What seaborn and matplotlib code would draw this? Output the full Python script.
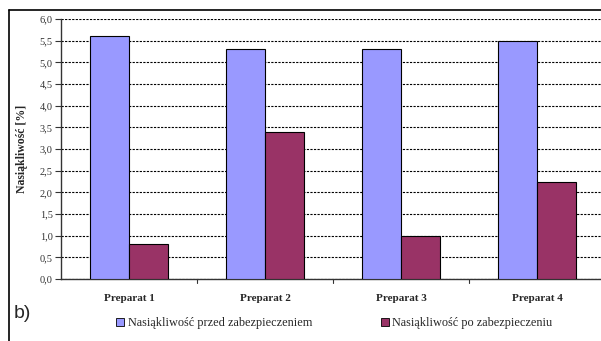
import matplotlib
matplotlib.use("Agg")
import matplotlib.pyplot as plt
from matplotlib.patches import Rectangle
from matplotlib.ticker import FuncFormatter, MultipleLocator
import pandas as pd
import seaborn as sns

categories = ["Preparat 1", "Preparat 2", "Preparat 3", "Preparat 4"]
series_names = ["Nasiąkliwość przed zabezpieczeniem", "Nasiąkliwość po zabezpieczeniu"]
before_values = [5.6, 5.3, 5.3, 5.5]
after_values = [0.8, 3.4, 1.0, 2.25]
colors = ["#9999FF", "#993366"]

df = pd.DataFrame({
    "Preparat": categories * 2,
    "Seria": [series_names[0]] * 4 + [series_names[1]] * 4,
    "Wartość": before_values + after_values,
})

sns.set_theme(style="white")
plt.rcParams["font.family"] = ["Liberation Serif", "DejaVu Serif"]

W, H = 601, 341
fig = plt.figure(figsize=(W / 100, H / 100), dpi=100)

# plot area in pixel coordinates
left, right, top, bottom = 61, 605, 19, 279
ax = fig.add_axes([left / W, 1 - bottom / H, (right - left) / W, (bottom - top) / H])

sns.barplot(data=df, x="Preparat", y="Wartość", hue="Seria", palette=colors,
            width=2 / 3.5, gap=0, edgecolor="black", linewidth=0.8,
            saturation=1, ax=ax, legend=False, zorder=3)

ax.set_ylim(0, 6)
ax.set_xlim(-0.5, 3.5)
ax.yaxis.set_major_locator(MultipleLocator(0.5))
ax.yaxis.set_major_formatter(FuncFormatter(lambda v, p: f"{v:.1f}".replace(".", ",")))
ax.grid(axis="y", color="black", linestyle=(0, (2, 1.2)), linewidth=0.8, zorder=0)
ax.grid(axis="x", visible=False)

for s in ["top", "right"]:
    ax.spines[s].set_visible(False)
for s in ["left", "bottom"]:
    ax.spines[s].set_color("#333333")
    ax.spines[s].set_linewidth(1.0)

ax.tick_params(axis="y", direction="out", length=4, width=0.8, color="#333333",
               labelsize=7.5, pad=2, left=True, labelcolor="#333333")
ax.set_xticks([0, 1, 2, 3])
ax.set_xticklabels(categories, fontsize=8, fontweight="bold")
ax.tick_params(axis="x", length=0, pad=11)
# category separators on the x axis
for xb in [0.5, 1.5, 2.5]:
    ax.plot([xb, xb], [0, -0.09], color="#333333", lw=0.8, clip_on=False,
            transform=ax.transData)

ax.set_xlabel("")
ax.set_ylabel("Nasiąkliwość [%]", fontsize=8.5, fontweight="bold", labelpad=8)

# legend below the plot
handles = [Rectangle((0, 0), 1, 1, facecolor=c, edgecolor="black", linewidth=0.6) for c in colors]
fig.legend(handles, series_names, loc="center", bbox_to_anchor=(334.5 / W, 1 - 323 / H),
           ncol=2, frameon=False, fontsize=8.8, handlelength=0.65, handleheight=0.65,
           handletextpad=0.3, columnspacing=5.6, borderpad=0, borderaxespad=0)

fig.text(14 / W, 1 - 314 / H, "b)", fontsize=14, family="Liberation Sans",
         va="center", ha="left")

# outer frame, open at the right and bottom
fig.add_artist(plt.Line2D([9 / W, 1], [1 - 10 / H, 1 - 10 / H], color="black", lw=1.2))
fig.add_artist(plt.Line2D([9 / W, 9 / W], [0, 1 - 10 / H], color="black", lw=1.2))

fig.savefig("out.png", dpi=100, facecolor="white")
